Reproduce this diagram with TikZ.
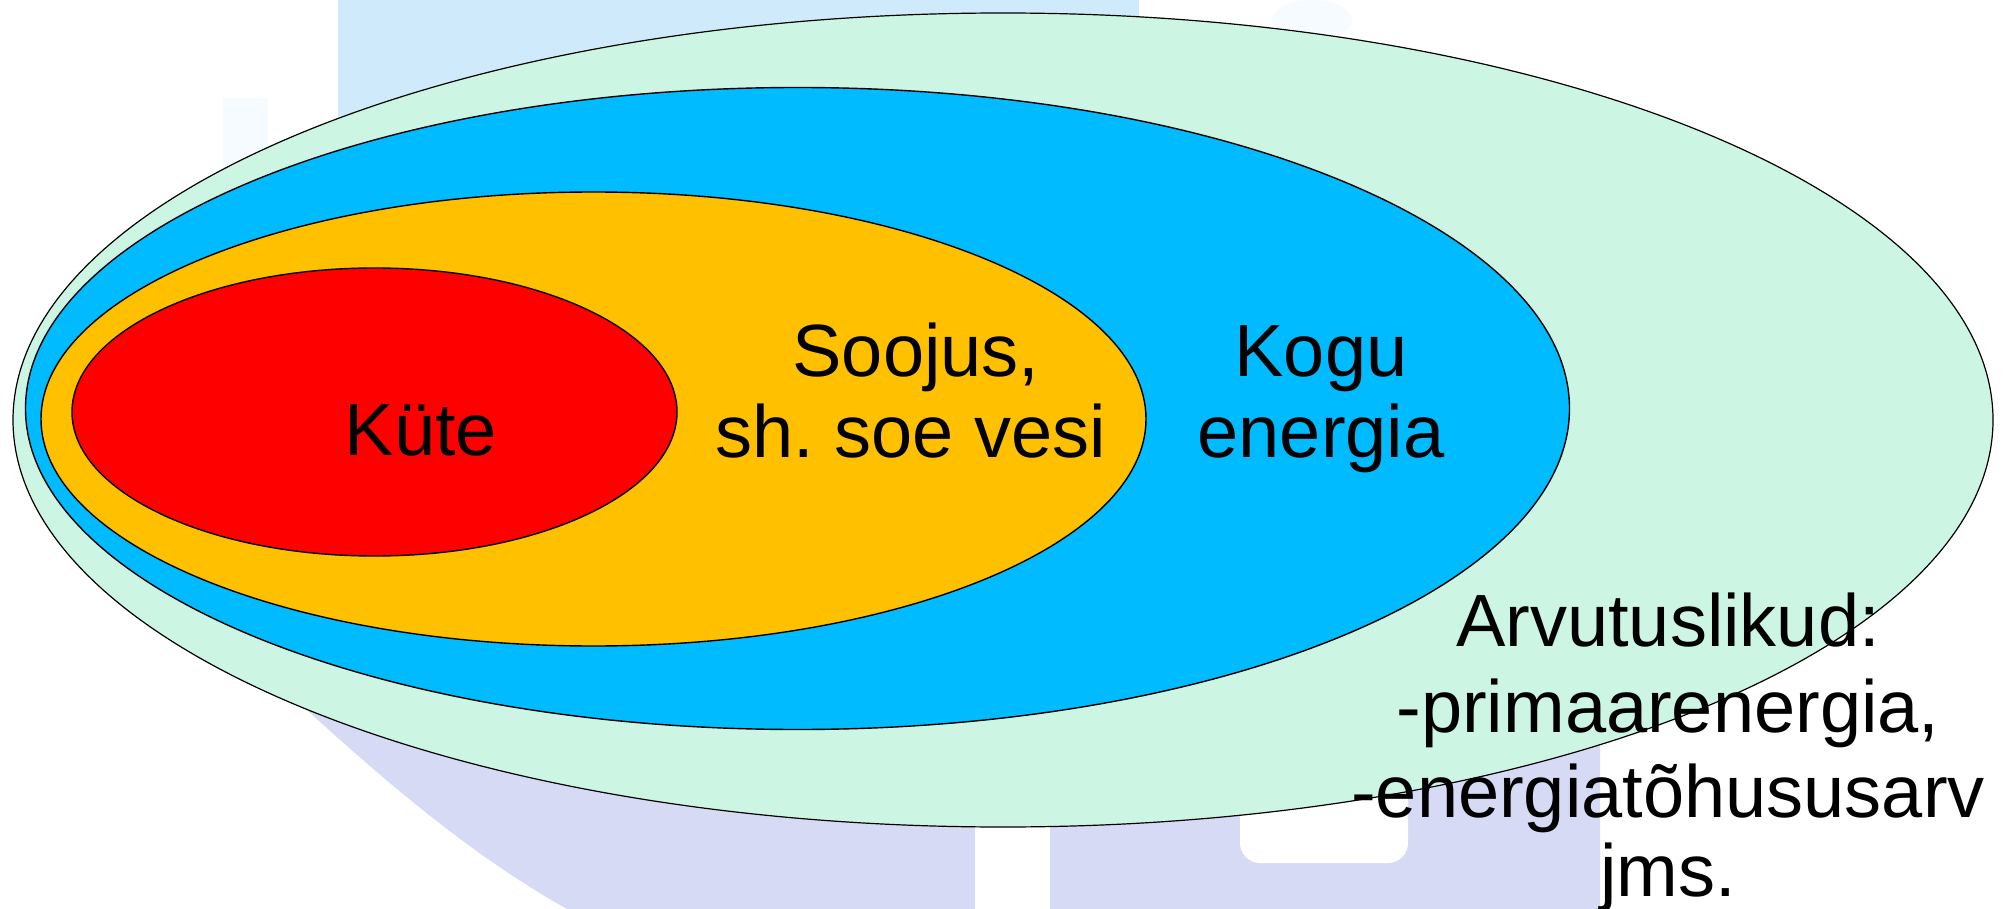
\documentclass[tikz,border=0pt]{standalone}
\usepackage{fontspec}
\setmainfont{Liberation Sans}
\frenchspacing
\definecolor{mint}{HTML}{CDF5E3}
\definecolor{skyb}{HTML}{00BBFF}
\definecolor{ambr}{HTML}{FFC000}
\definecolor{redd}{HTML}{FF0000}
\definecolor{wmblue}{HTML}{CFEBFB}
\definecolor{wmlav}{HTML}{D7DAF5}
\tikzset{
  ring/.style={draw=black, line width=0.7pt},
  lbl/.style={inner sep=0pt, anchor=base, font=\fontsize{37}{40}\selectfont, text=black}
}
\begin{document}
\begin{tikzpicture}[x=0.5pt,y=-0.5pt]
\useasboundingbox (0,0) rectangle (2007,909);
\fill[white] (0,0) rectangle (2007,909);
% faint watermark
\fill[wmblue] (338,0) rectangle (1139,320);
\fill[wmblue, opacity=0.2] (223,98) rectangle (268,220);
\fill[wmblue, opacity=0.2] (1312,20) ellipse [x radius=20pt, y radius=10pt];
\fill[wmlav] (295,690) -- (307,710) .. controls (400,795) and (480,860) .. (567,909)
  -- (1600,909) -- (1600,735) -- (1000,690) -- cycle;
\fill[white] (975,800) rectangle (1050,909);
\fill[white, rounded corners=10pt] (1240,760) rectangle (1408,863);
% ellipses
\draw[fill=mint, draw=black, line width=0.6pt] (1003,420) ellipse [x radius=495pt, y radius=203.5pt];
\draw[ring, fill=skyb] (797.5,408.5) ellipse [x radius=386pt, y radius=160.5pt];
\draw[ring, fill=ambr] (593.5,419) ellipse [x radius=276.25pt, y radius=113.5pt];
\draw[ring, fill=redd] (374.5,412) ellipse [x radius=151.25pt, y radius=72pt];
% labels
\node[lbl] (kute) at (421,455) {Küte};
\node[lbl] (soojusA) at (916,376) {Soojus,};
\node[lbl] (soojusB) at (911,457) {sh. soe vesi};
\node[lbl] (koguA) at (1321,376) {Kogu};
\node[lbl] (koguB) at (1321,457) {energia};
\node[lbl] (arvA) at (1668,646) {Arvutuslikud:};
\node[lbl] (arvB) at (1668,732) {-primaarenergia,};
\node[lbl] (arvC) at (1668,817) {-energiatõhususarv};
\node[lbl] (arvD) at (1668,896) {jms.};
\end{tikzpicture}
\end{document}
